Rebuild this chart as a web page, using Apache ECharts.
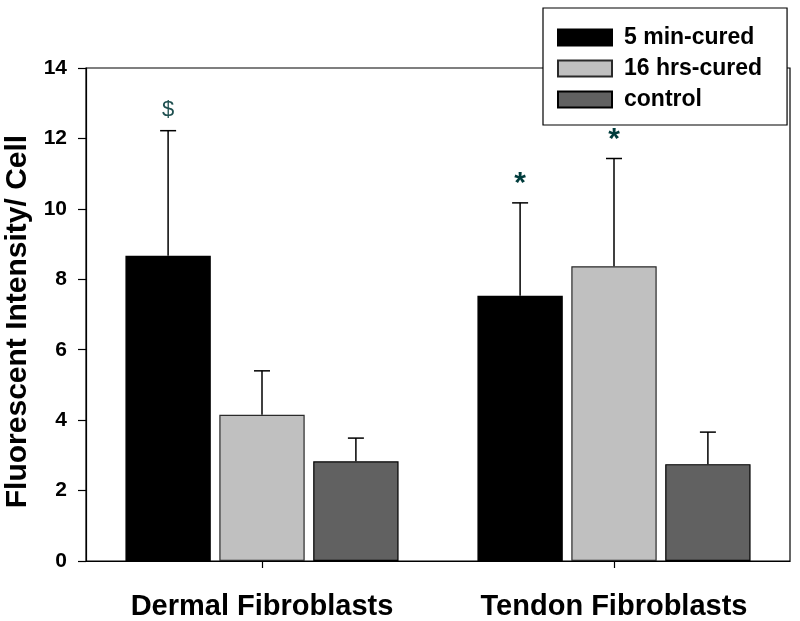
<!DOCTYPE html>
<html><head><meta charset="utf-8">
<script src="https://cdn.jsdelivr.net/npm/echarts@6/dist/echarts.min.js"></script>
<style>html,body{margin:0;padding:0;background:#fff}#c{width:800px;height:621px}</style>
</head><body><div id="c"></div>
<script>
var categories = ['Dermal Fibroblasts', 'Tendon Fibroblasts'];
var seriesNames = ['5 min-cured', '16 hrs-cured', 'control'];
var seriesColors = ['#000000', '#c0c0c0', '#616161'];
var means5min = [8.67, 7.53];
var means16hrs = [4.15, 8.37];
var meansControl = [2.83, 2.75];
var errTop5min = [12.22, 10.17];
var errTop16hrs = [5.40, 11.43];
var errTopControl = [3.49, 3.66];
var marks5min = ['$', '*'];
var marks16hrs = ['', '*'];
var marksControl = ['', ''];
var yTicks = [0, 2, 4, 6, 8, 10, 12, 14];

var means = [means5min, means16hrs, meansControl];
var errTops = [errTop5min, errTop16hrs, errTopControl];
var marks = [marks5min, marks16hrs, marksControl];

var catGap = 0.224, barGapFrac = 0.1;
var font = '"Liberation Sans", Arial, sans-serif';

function errRender(si) {
  return function (params, api) {
    var ci = api.value(0);
    var base = api.coord([ci, api.value(1)]);
    var top = api.coord([ci, api.value(2)]);
    var w = api.size([1, 0])[0];
    var region = w * (1 - catGap);
    var b = region / (3 + 2 * barGapFrac);
    var off = (si - 1) * b * (1 + barGapFrac);
    var x = base[0] + off;
    var cap = 8;
    var children = [
      {type: 'line', shape: {x1: x, y1: base[1], x2: x, y2: top[1]}, style: {stroke: '#000', lineWidth: 1.5}},
      {type: 'line', shape: {x1: x - cap, y1: top[1], x2: x + cap, y2: top[1]}, style: {stroke: '#000', lineWidth: 1.5}}
    ];
    var m = marks[si][ci];
    if (m) {
      var isStar = m === '*';
      children.push({type: 'text', style: {
        text: m, x: x, y: top[1] - (isStar ? 4 : 10), align: 'center', verticalAlign: 'bottom',
        fill: isStar ? '#003c3c' : '#1f5050',
        font: (isStar ? 'bold 30px ' : 'normal 22px ') + font
      }});
    }
    return {type: 'group', children: children};
  };
}

var series = [];
for (var i = 0; i < 3; i++) {
  series.push({
    name: seriesNames[i], type: 'bar', data: means[i],
    barCategoryGap: (catGap * 100) + '%', barGap: (barGapFrac * 100) + '%',
    itemStyle: {color: seriesColors[i], borderColor: i === 1 ? '#2a2a2a' : '#000', borderWidth: 1.2},
    emphasis: {disabled: true}, z: 2
  });
}
for (var j = 0; j < 3; j++) {
  var d = [];
  for (var k = 0; k < categories.length; k++) d.push([k, means[j][k], errTops[j][k]]);
  series.push({
    type: 'custom', renderItem: errRender(j), data: d, z: 3, silent: true,
    encode: {x: 0, y: [1, 2]}
  });
}

var chart = echarts.init(document.getElementById('c'));
chart.setOption({
  animation: false,
  backgroundColor: '#fff',
  grid: {left: 86, right: 10, top: 68, bottom: 60, show: true, containLabel: false, outerBoundsMode: 'none',
    borderColor: '#000', borderWidth: 1.2, backgroundColor: 'transparent'},
  legend: {
    data: seriesNames, orient: 'vertical', left: 543, top: 8,
    icon: 'rect',
    itemWidth: 54, itemHeight: 16, itemGap: 8,
    padding: [18, 25, 14, 14],
    backgroundColor: '#fff', borderColor: '#000', borderWidth: 1.2,
    textStyle: {fontFamily: font, fontWeight: 'bold', fontSize: 23, color: '#000', padding: [0, 0, 0, 7]},
    selectedMode: false, z: 10
  },
  xAxis: {
    type: 'category', data: categories,
    axisLine: {lineStyle: {color: '#000', width: 1.2}},
    axisTick: {show: true, alignWithLabel: true, length: 7, lineStyle: {color: '#000', width: 1.2}},
    axisLabel: {fontFamily: font, fontWeight: 'bold', fontSize: 29, color: '#000', margin: 31}
  },
  yAxis: {
    type: 'value', min: 0, max: 14, interval: 2,
    name: 'Fluorescent Intensity/ Cell', nameLocation: 'middle', nameGap: 45,
    nameTextStyle: {fontFamily: font, fontWeight: 'bold', fontSize: 30, color: '#000', padding: [0, 14, 0, 0]},
    axisLine: {show: true, lineStyle: {color: '#000', width: 1.2}},
    axisTick: {show: true, length: 8, lineStyle: {color: '#000', width: 1.2}},
    splitLine: {show: false},
    axisLabel: {fontFamily: font, fontWeight: 'bold', fontSize: 21, color: '#000', margin: 19,
      formatter: function (v) { return yTicks.indexOf(v) >= 0 ? String(v) : ''; }}
  },
  series: series
});
</script></body></html>
